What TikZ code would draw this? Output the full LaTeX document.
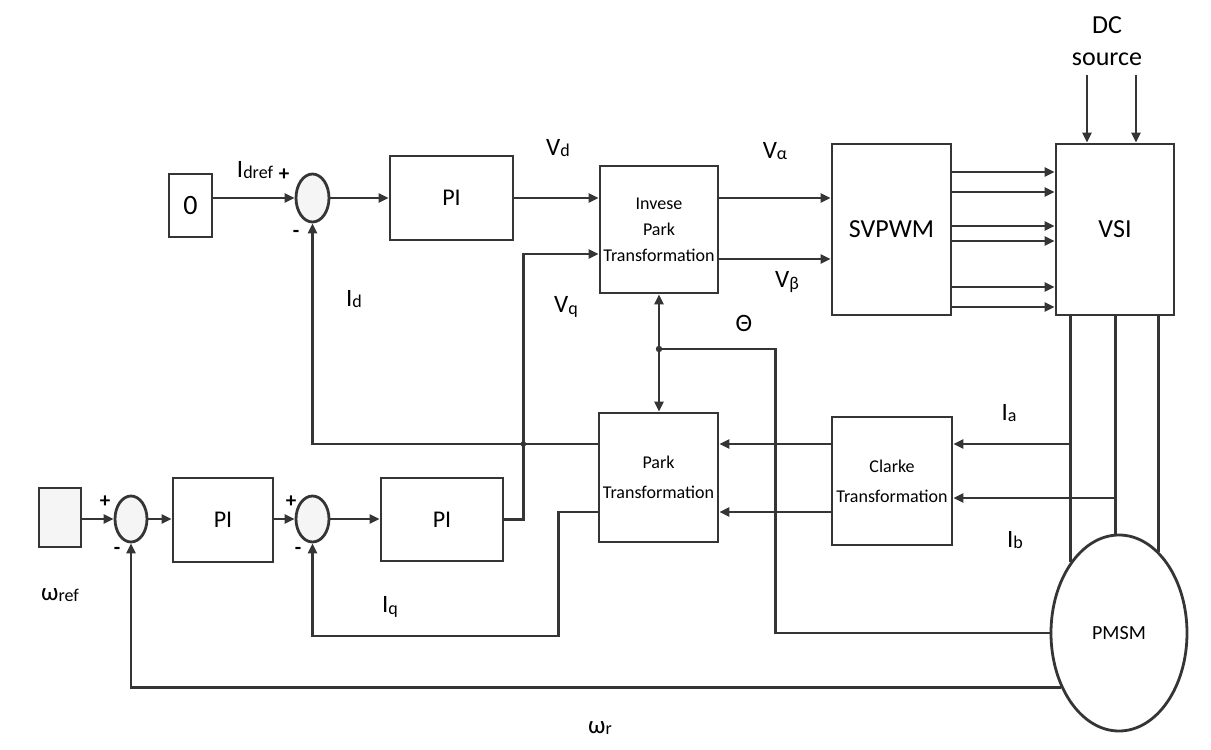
\documentclass[tikz,border=0pt]{standalone}
\usepackage{fontspec}
\setmainfont{Carlito}
\usetikzlibrary{arrows.meta,shapes.geometric}
\definecolor{lc}{HTML}{353535}
\newcommand{\fs}[1]{\fontsize{#1}{#1}\selectfont}
\newcommand{\sbs}[1]{\raisebox{-1.5pt}{\fs{18}#1}}
\begin{document}
\begin{tikzpicture}[x=1pt,y=-1pt,
 ln/.style={draw=lc,line width=2.8pt},
 arr/.style={ln,-{Triangle[length=10pt,width=9pt]}},
 blk/.style={draw=lc,line width=2.8pt,fill=white,inner sep=0pt,rectangle},
 sumj/.style={draw=lc,line width=2.8pt,ellipse,fill=gray!8,inner sep=0pt},
 lab/.style={inner sep=0pt,font=\fs{25}},
 sgn/.style={inner sep=0pt,font=\bfseries\fs{21}},
 txt/.style={align=center,font=\fontsize{18}{30}\selectfont}]
\useasboundingbox (0,0) rectangle (1211,750);

% blocks
\node[blk,minimum width=43pt,minimum height=63pt,font=\fs{28}] (zero) at (190.5,205.5) {0};
\node[sumj,minimum width=33pt,minimum height=48pt] (s1) at (312.5,198) {};
\node[blk,minimum width=123pt,minimum height=84pt,font=\fs{24}] (pi1) at (451.5,198) {PI};
\node[blk,minimum width=118pt,minimum height=127pt,align=center,font=\fontsize{18}{26}\selectfont] (ip) at (659,229.5) {Invese\\Park\\Transformation};
\node[blk,minimum width=119pt,minimum height=171pt,font=\fs{26}] (svpwm) at (891.5,229.5) {SVPWM};
\node[blk,minimum width=118pt,minimum height=171pt,font=\fs{26}] (vsi) at (1115,229.5) {VSI};
\node[blk,minimum width=119pt,minimum height=129pt,txt] (park) at (658.5,477.5) {Park\\Transformation};
\node[blk,minimum width=120pt,minimum height=128pt,txt] (clarke) at (892,481) {Clarke\\Transformation};
\node[draw=lc,line width=2.8pt,ellipse,fill=white,minimum width=136pt,minimum height=196pt,inner sep=0pt,font=\fs{20}] (pmsm) at (1119,633) {PMSM};
\node[blk,fill=gray!8,minimum width=42pt,minimum height=59pt] (wbox) at (60,517.5) {};
\node[sumj,minimum width=32pt,minimum height=46pt] (s2) at (131,519) {};
\node[blk,minimum width=100pt,minimum height=84pt,font=\fs{24}] (pi2a) at (223,520) {PI};
\node[sumj,minimum width=33pt,minimum height=46pt] (s3) at (312.5,519) {};
\node[blk,minimum width=122pt,minimum height=83pt,font=\fs{24}] (pi2b) at (442,519.5) {PI};

% top chain
\draw[arr] (zero.east |- s1.west) -- (s1.west);
\draw[arr] (s1.east) -- (s1.east -| pi1.west);
\draw[arr] (pi1.east) -- (pi1.east -| ip.west);
\coordinate (vq) at ([yshift=-24.5pt]ip.west);
\coordinate (vqx) at ([xshift=19pt]pi2b.east);
\draw[arr] (pi2b.east) -- (vqx) |- (vq);
\coordinate (va) at ([yshift=31.5pt]ip.east);
\coordinate (vb) at ([yshift=-29.5pt]ip.east);
\draw[arr] (va) -- (va -| svpwm.west);
\draw[arr] (vb) -- (vb -| svpwm.west);
\foreach \d [count=\i] in {57.5,37.5,3.5,-11.5,-57.5,-77.5} {
  \coordinate (g\i) at ([yshift=\d pt]svpwm.east);
  \draw[arr] (g\i) -- (g\i -| vsi.west);
}
% DC source
\node[align=center,inner sep=0pt,font=\fontsize{26}{32}\selectfont] (dc) at (1107,41) {DC\\source};
\coordinate (dc1) at (1087,75);
\coordinate (dc2) at (1136,75);
\draw[arr] (dc1) -- (dc1 |- vsi.north);
\draw[arr] (dc2) -- (dc2 |- vsi.north);

% phases
\foreach \a in {124,92,64} \draw[ln] (pmsm.\a |- vsi.south) -- (pmsm.\a);
\coordinate (ia) at ([yshift=37pt]clarke.east);
\coordinate (ib) at ([yshift=-17pt]clarke.east);
\draw[arr] (ia -| pmsm.124) -- (ia);
\draw[arr] (ib -| pmsm.92) -- (ib);

% clarke -> park
\coordinate (pa) at ([yshift=33.5pt]park.east);
\coordinate (pb) at ([yshift=-34.5pt]park.east);
\draw[arr] (pa -| clarke.west) -- (pa);
\draw[arr] (pb -| clarke.west) -- (pb);

% feedbacks
\coordinate (ida) at ([yshift=33.5pt]park.west);
\draw[arr] (ida) -| (s1.south);
\fill[lc] (vqx |- ida) circle (2.8);
\coordinate (iqa) at ([yshift=-34.5pt]park.west);
\draw[arr] (iqa) -- ++(-39,0) -- ++(0,124) -| (s3.south);

% theta
\coordinate (th) at (659,349);
\draw[arr] (th) -- (th |- ip.south);
\draw[arr] (th) -- (th |- park.north);
\draw[ln] (pmsm.west) -- ++(-274,0) |- (th);
\fill[lc] (th) circle (3.2);

% speed loop
\draw[arr] (pmsm.223) -| (s2.south);
\draw[arr] (wbox.east |- s2.west) -- (s2.west);
\draw[arr] (s2.east) -- (s2.east -| pi2a.west);
\draw[arr] (pi2a.east |- s3.west) -- (s3.west);
\draw[arr] (s3.east) -- (s3.east -| pi2b.west);

% labels
\node[lab] (lidref) at (255,170) {I\sbs{dref}};
\node[sgn] (p1) at (284,175) {+};
\node[sgn] (m1) at (296,234) {-};
\node[lab] (lid) at (354,299) {I\sbs{d}};
\node[lab] (lvd) at (558,148) {V\sbs{d}};
\node[lab] (lvq) at (566,307) {V\sbs{q}};
\node[lab] (lva) at (775,151) {V\sbs{α}};
\node[lab] (lvb) at (787,282) {V\sbs{β}};
\node[lab] (lth) at (744,323) {Θ};
\node[lab] (lia) at (1009,413) {I\sbs{a}};
\node[lab] (lib) at (1015,540) {I\sbs{b}};
\node[lab] (lwref) at (60,595) {ω\sbs{ref}};
\node[lab] (liq) at (390,607) {I\sbs{q}};
\node[lab] (lwr) at (600,728) {ω\sbs{r}};
\node[sgn] (p2) at (105,502) {+};
\node[sgn] (m2) at (117,551) {-};
\node[sgn] (p3) at (291,502) {+};
\node[sgn] (m3) at (298,551) {-};
\end{tikzpicture}
\end{document}
